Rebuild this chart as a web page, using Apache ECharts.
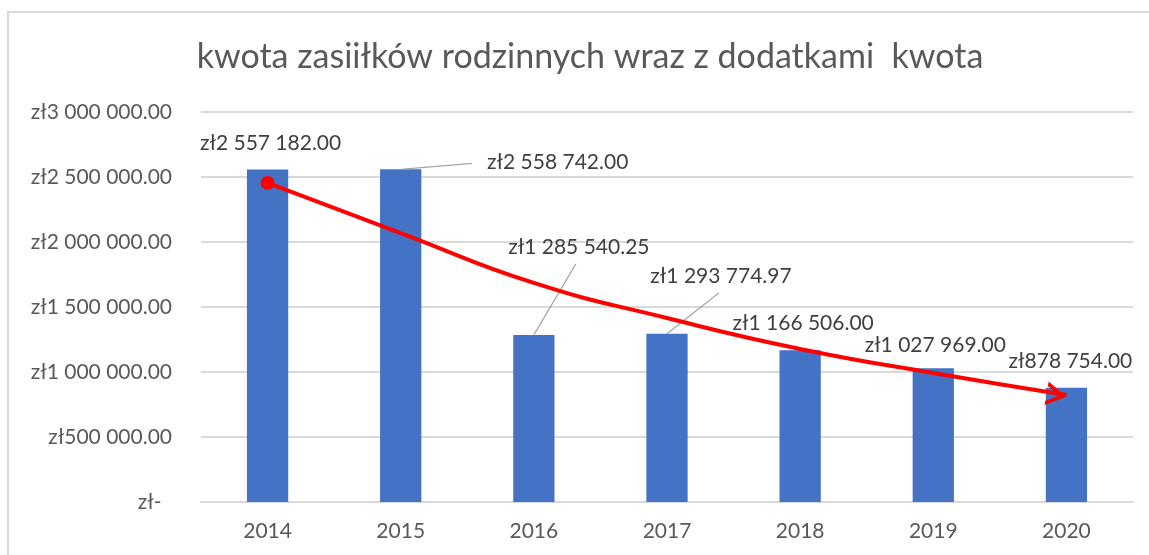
<!DOCTYPE html>
<html>
<head>
<meta charset="utf-8">
<script src="https://cdn.jsdelivr.net/npm/echarts@6/dist/echarts.min.js"></script>
<style>
  html, body { margin: 0; padding: 0; background: #fff; }
  #chart { width: 1149px; height: 555px; }
</style>
</head>
<body>
<div id="chart"></div>
<script>
var years = ['2014', '2015', '2016', '2017', '2018', '2019', '2020'];
var amounts = [2557182.00, 2558742.00, 1285540.25, 1293774.97, 1166506.00, 1027969.00, 878754.00];
// hand-drawn red arrow over the bars
var arrowValues = [2454000, 2069000, 1685000, 1415000, 1177000, 992000, 823000];
var yTicks = { min: 0, max: 3000000, interval: 500000 };

var font = 'Lato, "Noto Sans", sans-serif';
var gray = '#595959';

function money(v) {
  var parts = v.toFixed(2).split('.');
  var int = parts[0].replace(/\B(?=(\d{3})+(?!\d))/g, ' ');
  return 'zł' + int + '.' + parts[1];
}

// label shifts (px) from the default 'top' spot, as in the picture
var labelShift = [[3, -11], [157, 8], [45, -72], [54, -42], [3, -12], [2, -8], [4, -11]];
// leader line ends (px) from the bar top, only where the picture has one
var leaderEnd = [null, [71, -6], [42, -71], [52, -41], null, null, null];

var arrowData = arrowValues.map(function(v, i) {
  if (i === 0) {
    return { value: v, symbol: 'circle', symbolSize: 14 };
  }
  if (i === arrowValues.length - 1) {
    return {
      value: v,
      symbol: 'path://M0,0 L20,12 L0,24 L0,19.5 L13,12 L0,4.5 Z',
      symbolSize: [20, 24],
      symbolRotate: -10,
      symbolOffset: [-10, 0]
    };
  }
  return { value: v, symbol: 'none' };
});

var chart = echarts.init(document.getElementById('chart'), null, { renderer: 'canvas' });
chart.setOption({
  animation: false,
  backgroundColor: '#fff',
  textStyle: { fontFamily: font },
  graphic: [{
    type: 'rect',
    silent: true,
    shape: { x: 8, y: 12, width: 1200, height: 600 },
    style: { fill: 'none', stroke: '#d9d9d9', lineWidth: 2 }
  }],
  title: {
    text: 'kwota zasiiłków rodzinnych wraz z dodatkami  kwota',
    left: 585,
    textAlign: 'center',
    top: 35,
    textStyle: { color: gray, fontSize: 34, fontWeight: 'normal', fontFamily: font }
  },
  grid: { left: 201, right: 16, top: 112, bottom: 53 },
  xAxis: {
    type: 'category',
    data: years,
    axisLine: { lineStyle: { color: '#d9d9d9', width: 2 } },
    axisTick: { show: false },
    axisLabel: { color: gray, fontSize: 21, margin: 19, fontFamily: font }
  },
  yAxis: {
    type: 'value',
    min: yTicks.min,
    max: yTicks.max,
    interval: yTicks.interval,
    axisLine: { show: false },
    axisTick: { show: false },
    splitLine: { lineStyle: { color: '#d9d9d9', width: 2 } },
    axisLabel: {
      color: gray,
      fontSize: 21,
      margin: 29,
      fontFamily: font,
      formatter: function(v) { return v === 0 ? 'zł-\u2002' : money(v); }
    }
  },
  series: [
    {
      name: 'kwota',
      type: 'bar',
      barWidth: '31%',
      itemStyle: { color: '#4472C4' },
      data: amounts,
      label: {
        show: true,
        position: 'top',
        color: '#404040',
        fontSize: 21,
        fontFamily: font,
        formatter: function(p) { return money(p.value); }
      },
      labelLayout: function(p) {
        var s = labelShift[p.dataIndex];
        return { dx: s[0], dy: s[1] };
      }
    },
    {
      name: 'leaders',
      type: 'custom',
      silent: true,
      z: 3,
      encode: { x: 0, y: 1 },
      data: amounts.map(function(v, i) { return [i, v]; }),
      renderItem: function(params, api) {
        var d = leaderEnd[params.dataIndex];
        if (!d) return;
        var p = api.coord([api.value(0), api.value(1)]);
        return {
          type: 'line',
          shape: { x1: p[0], y1: p[1], x2: p[0] + d[0], y2: p[1] + d[1] },
          style: { stroke: '#a6a6a6', lineWidth: 1.2 }
        };
      }
    },
    {
      name: 'trend',
      type: 'line',
      smooth: 0.5,
      symbol: 'none',
      showAllSymbol: true,
      z: 5,
      lineStyle: { color: '#ff0000', width: 4 },
      itemStyle: { color: '#ff0000' },
      data: arrowData
    }
  ]
});
</script>
</body>
</html>
